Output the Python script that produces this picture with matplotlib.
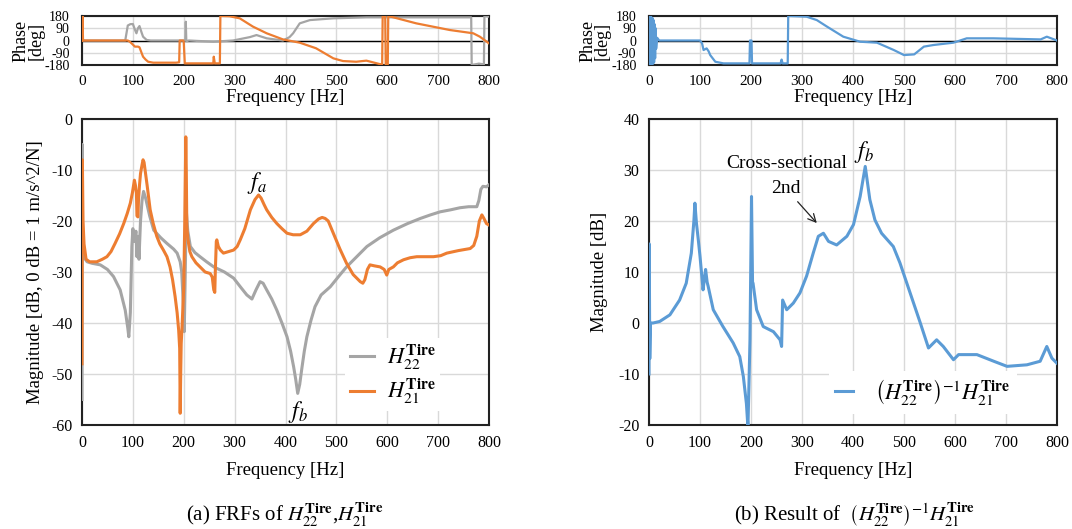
import matplotlib
matplotlib.use("Agg")
import matplotlib.pyplot as plt

plt.rcParams["font.family"] = ["Liberation Serif", "DejaVu Serif"]
plt.rcParams["mathtext.fontset"] = "stix"
plt.rcParams["axes.unicode_minus"] = False

GRAY = "#a5a5a5"
ORANGE = "#ed7d31"
BLUE = "#5b9bd5"

# ---- magnitude, H22 (gray) ----
H22_F = [0, 0.5, 1, 3, 10, 20, 36, 50, 62, 75,
         85, 90, 92, 95, 98, 100, 103, 106, 108, 110,
         112, 115, 118, 121, 125, 133, 141, 155, 167, 180,
         187, 193, 196, 199, 201, 203, 205, 208, 213, 222,
         232, 245, 259, 280, 298, 312, 324, 334, 342, 350,
         356, 363, 373, 383, 393, 403, 410, 416, 420, 424,
         428, 432, 437, 442, 450, 458, 470, 488, 505, 520,
         540, 560, 585, 612, 640, 665, 685, 704, 725, 743,
         760, 776, 780, 784, 788, 795, 800]
H22_DB = [-55, -5, -20, -27, -28, -28.3, -28.6, -29.5, -30.9, -33.5,
          -37.5, -41, -42.7, -38, -25, -21.5, -24, -22, -27, -23,
          -27.5, -20, -16, -14.2, -15.5, -19, -21.8, -23.3, -24.4, -25.5,
          -26.3, -28, -30, -36, -41.7, -30, -18, -22, -25, -26.2,
          -27, -28, -29, -30, -31.2, -33, -34.5, -35.3, -33.5, -31.9,
          -32.2, -33.5, -35.3, -37.5, -40, -42.7, -45.5, -48.6, -51, -53.8,
          -52, -49, -45.5, -42.7, -39.5, -36.8, -34.5, -32.9, -30.8, -29,
          -27, -25, -23.3, -21.8, -20.5, -19.5, -18.8, -18.2, -17.8, -17.4,
          -17.2, -17.2, -16, -13.8, -13.2, -13.3, -12.9]

# ---- magnitude, H21 (orange) ----
H21_F = [0, 0.7, 2, 4, 8, 15, 29, 40, 49, 57,
         65, 74, 82, 89, 95, 99, 103, 105, 107, 108,
         110, 111, 113, 115, 118, 120, 122, 124, 128, 134,
         140, 147, 153, 160, 167, 173, 178, 183, 187, 190,
         192, 193, 194, 195, 197, 200, 202, 204, 205, 206,
         208, 212, 216, 224, 232, 242, 252, 256, 259, 261,
         262, 264, 265, 268, 272, 278, 288, 298, 305, 311,
         320, 331, 340, 347, 352, 358, 363, 373, 383, 393,
         403, 415, 429, 442, 455, 465, 472, 478, 484, 494,
         507, 520, 533, 547, 552, 556, 561, 566, 575, 586,
         594, 599, 603, 612, 620, 632, 645, 658, 675, 691,
         705, 717, 740, 763, 770, 776, 781, 786, 790, 795,
         800]
H21_DB = [-48, -8, -20, -24.5, -27.5, -28, -28, -27.5, -27, -26,
          -24.4, -22.5, -20.5, -18.5, -16.5, -14.5, -12, -13, -14.6, -19,
          -19.2, -16, -13, -10.7, -9, -8, -8.5, -10, -13, -17.8,
          -20.5, -23, -24.5, -25.7, -27, -29, -31.5, -34.8, -38, -41.4,
          -45, -57.7, -50, -44, -40, -33, -20, -3.5, -10, -21,
          -23.5, -26, -27, -28.2, -29, -30, -30.3, -31, -33.5, -34,
          -30, -24, -23.7, -25, -25.7, -26.3, -26, -25.7, -25, -23.7,
          -21.5, -17.8, -15.8, -14.9, -15.5, -16.8, -17.8, -19.3, -20.5, -21.5,
          -22.4, -22.7, -22.7, -22, -20.5, -19.6, -19.3, -19.5, -20, -22.4,
          -25.5, -28.3, -30.5, -31.9, -32.2, -31.5, -29.5, -28.6, -28.8, -29,
          -29.5, -30.6, -29.5, -29, -28.2, -27.6, -27.2, -27, -27, -27,
          -26.8, -26.3, -25.8, -25.4, -24.8, -23, -20, -18.8, -19.5, -20.5,
          -20.8]

# ---- magnitude, (H22)^-1 H21 (blue) ----
RES_F = [0, 0.5, 1.5, 3, 8, 21, 41, 60, 73, 83,
         88, 90, 93, 97, 100, 106, 109, 111, 114, 116,
         126, 145, 165, 178, 185, 191, 194, 196, 198, 201,
         203, 204, 211, 224, 244, 257, 260, 262, 270, 283,
         296, 309, 322, 332, 342, 352, 368, 388, 401, 414,
         424, 433, 443, 456, 479, 492, 512, 532, 548, 564,
         577, 597, 607, 643, 676, 702, 741, 767, 780, 790,
         800]
RES_DB = [-10, 15.5, -7, 0, 0, 0.3, 1.6, 4.5, 7.8, 13.7,
          20, 23.5, 19.6, 16, 13.1, 6.5, 9, 10.5, 8, 7.2,
          2.6, -0.7, -3.9, -6.6, -10.5, -15.8, -20.5, -12, -3.3, 24.8,
          8, 7.8, 2.6, -0.7, -1.7, -3.3, -4.6, 4.5, 2.6, 3.9,
          5.9, 9.2, 13.7, 17, 17.6, 16, 15.3, 17, 19.3, 24.8,
          30.7, 24.2, 20.2, 17.6, 15, 11.8, 5.9, 0, -4.9, -3.3,
          -4.6, -7.2, -6.2, -6.2, -7.5, -8.5, -8.2, -7.5, -4.6, -6.9,
          -7.9]

# ---- phase ----
H22_PH_F = [0, 85, 90, 95, 100, 104, 107, 110, 113, 117,
            120, 127, 135, 203, 204, 205, 206, 210, 258, 297,
            330, 343, 363, 395, 408, 415, 428, 448, 494, 559,
            756, 765, 766, 780, 790, 791, 800]
H22_PH = [0, 0, 110, 120, 121, 80, 53, 90, 106, 60,
          28, 4, 0, 0, 138, 0, -5, 0, -9, 0,
          25, 40, 16, 0, 25, 53, 126, 150, 163, 170,
          170, 170, -180, -170, -175, 180, 175]

H21_PH_F = [0, 1, 2, 3, 90, 94, 100, 104, 110, 113,
            117, 120, 125, 130, 140, 153, 185, 191, 192, 199,
            200, 202, 258, 259, 261, 267, 271, 272, 290, 310,
            336, 363, 395, 428, 460, 494, 513, 539, 559, 585,
            590, 591, 596, 597, 601, 602, 657, 723, 769, 782,
            800]
H21_PH = [0, 180, 0, 0, 0, -9, -30, -45, -45, -50,
          -90, -119, -140, -156, -163, -163, -163, -160, 0, 0,
          -10, -168, -168, -119, -168, -168, -168, 180, 178, 163,
          102, 53, 8, -16, -57, -131, -151, -156, -148, -173,
          -175, 180, 175, -180, -178, 180, 126, 77, 53, 28,
          -21]

RES_PH_F = [0, 1, 2, 3, 4, 5, 6, 7, 8, 9,
            10, 11, 12, 13, 14, 16, 20, 100, 104, 107,
            113, 117, 120, 130, 146, 192, 197, 198, 201, 202,
            258, 260, 262, 272, 273, 309, 329, 349, 381, 414,
            447, 480, 500, 520, 539, 558, 597, 623, 675, 768,
            780, 800]
RES_PH = [0, 180, -180, 175, -178, 170, -175, 165, -170, 150,
          -160, 120, -130, 90, -60, 20, 0, 0, -21, -70,
          -58, -80, -107, -156, -168, -168, -168, 0, 0, -168,
          -168, -140, -168, -168, 180, 175, 150, 102, 28, -9,
          -16, -70, -107, -102, -45, -33, -16, 16, 16, 8,
          28, 0]

FREQ_TICKS = list(range(0, 801, 100))
PHASE_TICKS = [-180, -90, 0, 90, 180]
MAG_A_TICKS = list(range(-60, 1, 10))
MAG_B_TICKS = list(range(-20, 41, 10))

LBL22 = r"$H_{22}^{\mathbf{Tire}}$"
LBL21 = r"$H_{21}^{\mathbf{Tire}}$"
LBLRES = r"$\left(H_{22}^{\mathbf{Tire}}\right)^{-1}H_{21}^{\mathbf{Tire}}$"

W, H = 1072, 529
fig = plt.figure(figsize=(W / 100, H / 100), dpi=100)


def box(x0, y0, x1, y1):
    return [x0 / W, 1 - y1 / H, (x1 - x0) / W, (y1 - y0) / H]


def style(ax, yticks, ylim, tick_fs):
    ax.set_xlim(0, 800)
    ax.set_ylim(*ylim)
    ax.set_xticks(FREQ_TICKS)
    ax.set_yticks(yticks)
    ax.grid(True, color="#d9d9d9", linewidth=1.0, zorder=0)
    ax.set_axisbelow(True)
    ax.tick_params(length=0, labelsize=tick_fs, pad=7)
    for s in ax.spines.values():
        s.set_color("#222222")
        s.set_linewidth(1.5)


def phase_axes(rect, series):
    ax = fig.add_axes(rect)
    for f, p, c in series:
        ax.plot(f, p, color=c, lw=1.6, zorder=3)
    style(ax, PHASE_TICKS, (-180, 180), 11)
    ax.set_yticklabels([str(t) for t in PHASE_TICKS], fontsize=10)
    ax.tick_params(axis="y", pad=9)
    ax.axhline(0, color="black", lw=1.0, zorder=2)
    ax.set_xlabel("Frequency [Hz]", fontsize=13.5, labelpad=1)
    ax.set_ylabel("Phase\n[deg]", fontsize=13, linespacing=0.8)
    ax.yaxis.set_label_coords(-0.093, 0.5)
    return ax


# (a) phase
phase_axes(box(82, 16, 489, 65),
           [(H22_PH_F, H22_PH, GRAY), (H21_PH_F, H21_PH, ORANGE)])
# (b) phase
phase_axes(box(649, 16, 1057, 65), [(RES_PH_F, RES_PH, BLUE)])

# (a) magnitude
ax = fig.add_axes(box(82, 119, 489, 425))
ax.plot(H22_F, H22_DB, color=GRAY, lw=2.2, label=LBL22, zorder=3)
ax.plot(H21_F, H21_DB, color=ORANGE, lw=2.2, label=LBL21, zorder=3)
style(ax, MAG_A_TICKS, (-60, 0), 11.5)
ax.set_xlabel("Frequency [Hz]", fontsize=13.5, labelpad=8)
ax.set_ylabel("Magnitude [dB, 0 dB = 1 m/s^2/N]", fontsize=13.5)
ax.yaxis.set_label_coords(-0.093, 0.5)
ax.text(344, -12.6, r"$f_a$", fontsize=17, ha="center", va="center")
ax.text(425, -57.4, r"$f_b$", fontsize=17, ha="center", va="center")
ax.legend(loc="center left", bbox_to_anchor=(0.62, 0.165), fontsize=16,
          frameon=True, framealpha=1, edgecolor="none", fancybox=False,
          handlelength=1.1, handletextpad=0.55, labelspacing=0.25,
          borderpad=0.2)

# (b) magnitude
ax = fig.add_axes(box(649, 119, 1057, 425))
ax.plot(RES_F, RES_DB, color=BLUE, lw=2.2, label=LBLRES, zorder=3)
style(ax, MAG_B_TICKS, (-20, 40), 11.5)
ax.set_xlabel("Frequency [Hz]", fontsize=13.5, labelpad=8)
ax.set_ylabel("Magnitude [dB]", fontsize=13.5)
ax.yaxis.set_label_coords(-0.10, 0.5)
ax.text(421, 33.6, r"$f_b$", fontsize=17, ha="center", va="center")
ax.text(270, 31.3, "Cross-sectional", fontsize=14, ha="center", va="center")
ax.annotate("2nd", xy=(329, 19.6), xytext=(268, 26.4), fontsize=14,
            ha="center", va="center",
            arrowprops=dict(arrowstyle="->", color="#222222", lw=0.9,
                            shrinkA=2, shrinkB=0))
ax.legend(loc="lower right", bbox_to_anchor=(0.93, 0.0), fontsize=16,
          frameon=True, framealpha=1, edgecolor="none", fancybox=False,
          handlelength=0.8, handletextpad=1.0, borderpad=0.3)

fig.text(285 / W, 1 - 515 / H,
         r"(a) FRFs of $H_{22}^{\mathbf{Tire}}$,$H_{21}^{\mathbf{Tire}}$",
         fontsize=15, ha="center", va="center")
fig.text(855 / W, 1 - 515 / H,
         r"(b) Result of  $\left(H_{22}^{\mathbf{Tire}}\right)^{-1}H_{21}^{\mathbf{Tire}}$",
         fontsize=15, ha="center", va="center")

fig.savefig("out.png", dpi=100, facecolor="white")
